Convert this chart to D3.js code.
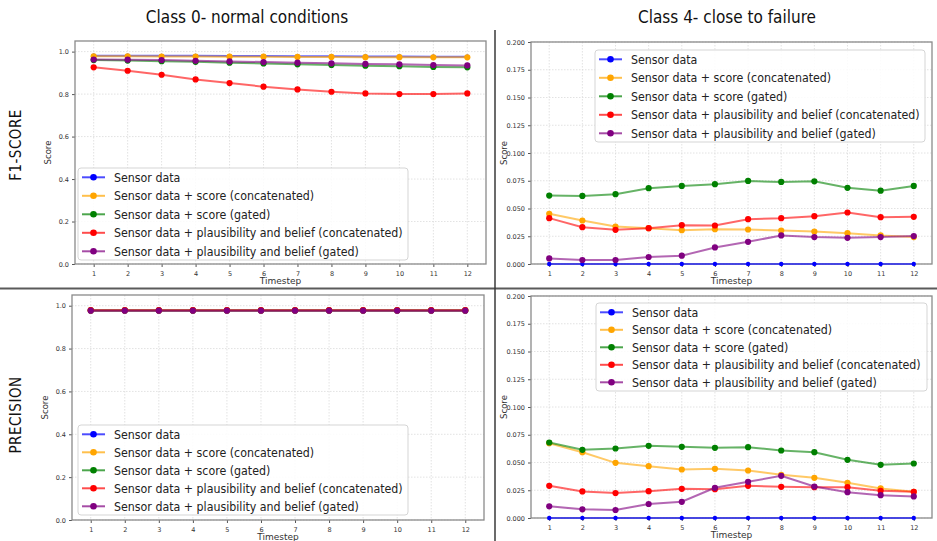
<!DOCTYPE html>
<meta charset="utf-8">
<style>
body { margin: 0; background: #fff; }
svg { display: block; }
</style>
<svg width="937" height="541"></svg>
<script src="https://d3js.org/d3.v7.min.js"></script>
<script>
var svg = d3.select("svg");

// categories and series
var timesteps = [1, 2, 3, 4, 5, 6, 7, 8, 9, 10, 11, 12];
var seriesNames = [
    "Sensor data",
    "Sensor data + score (concatenated)",
    "Sensor data + score (gated)",
    "Sensor data + plausibility and belief (concatenated)",
    "Sensor data + plausibility and belief (gated)"
];
var seriesColors = ["#0000ff", "#ffa500", "#008000", "#ff0000", "#800080"];

// F1-score, class 0 (one row per series, same order as seriesNames)
var f1Class0 = [
    [0.981, 0.981, 0.980, 0.980, 0.979, 0.979, 0.978, 0.978, 0.977, 0.977, 0.976, 0.976],
    [0.978, 0.978, 0.977, 0.977, 0.976, 0.976, 0.975, 0.975, 0.974, 0.974, 0.973, 0.973],
    [0.960, 0.958, 0.955, 0.952, 0.948, 0.944, 0.940, 0.937, 0.934, 0.931, 0.928, 0.926],
    [0.926, 0.910, 0.891, 0.869, 0.852, 0.835, 0.822, 0.811, 0.803, 0.800, 0.800, 0.803],
    [0.963, 0.962, 0.960, 0.957, 0.954, 0.951, 0.948, 0.945, 0.942, 0.940, 0.937, 0.935]
];
// F1-score, class 4
var f1Class4 = [
    [0, 0, 0, 0, 0, 0, 0, 0, 0, 0, 0, 0],
    [0.0452, 0.0392, 0.0338, 0.0323, 0.0305, 0.0314, 0.0311, 0.0302, 0.0293, 0.0278, 0.0257, 0.0243],
    [0.0616, 0.0613, 0.0629, 0.0683, 0.0703, 0.0719, 0.0748, 0.0739, 0.0745, 0.0686, 0.0661, 0.0703],
    [0.0413, 0.0332, 0.0308, 0.0323, 0.0350, 0.0347, 0.0404, 0.0413, 0.0431, 0.0464, 0.0422, 0.0425],
    [0.0050, 0.0036, 0.0036, 0.0063, 0.0075, 0.0149, 0.0200, 0.0257, 0.0243, 0.0236, 0.0243, 0.0252]
];
// Precision, class 0
var precClass0 = [
    [0.978, 0.978, 0.978, 0.978, 0.978, 0.978, 0.978, 0.978, 0.978, 0.978, 0.978, 0.978],
    [0.978, 0.978, 0.978, 0.978, 0.978, 0.978, 0.978, 0.978, 0.978, 0.978, 0.978, 0.978],
    [0.978, 0.978, 0.978, 0.978, 0.978, 0.978, 0.978, 0.978, 0.978, 0.978, 0.978, 0.978],
    [0.979, 0.979, 0.979, 0.979, 0.979, 0.979, 0.979, 0.979, 0.979, 0.979, 0.979, 0.979],
    [0.977, 0.977, 0.977, 0.977, 0.977, 0.977, 0.977, 0.977, 0.977, 0.977, 0.977, 0.977]
];
// Precision, class 4
var precClass4 = [
    [0, 0, 0, 0, 0, 0, 0, 0, 0, 0, 0, 0],
    [0.0674, 0.0593, 0.0497, 0.0467, 0.0437, 0.0443, 0.0428, 0.0389, 0.0362, 0.0317, 0.0266, 0.0236],
    [0.0680, 0.0614, 0.0626, 0.0650, 0.0641, 0.0632, 0.0638, 0.0608, 0.0593, 0.0524, 0.0479, 0.0491],
    [0.0290, 0.0239, 0.0225, 0.0242, 0.0263, 0.0260, 0.0290, 0.0281, 0.0278, 0.0278, 0.0245, 0.0236],
    [0.0105, 0.0078, 0.0072, 0.0126, 0.0146, 0.0272, 0.0326, 0.0380, 0.0284, 0.0233, 0.0206, 0.0194]
];

var yTicksClass0 = [0, 0.2, 0.4, 0.6, 0.8, 1.0];
var yTicksClass4 = [0, 0.025, 0.05, 0.075, 0.1, 0.125, 0.15, 0.175, 0.2];

// panel layout
var panels = [
    {data: f1Class0, box: [75, 41, 486, 264], ymax: 1.05, ticks: yTicksClass0, fmt: ".1f", leg: [78, 168, 330, 92]},
    {data: f1Class4, box: [531, 42, 932, 264], ymax: 0.2, ticks: yTicksClass4, fmt: ".3f", leg: [595, 50, 330, 92]},
    {data: precClass0, box: [72, 295, 484, 520], ymax: 1.05, ticks: yTicksClass0, fmt: ".1f", leg: [78, 425, 330, 90]},
    {data: precClass4, box: [531, 296, 932, 518], ymax: 0.2, ticks: yTicksClass4, fmt: ".3f", leg: [596, 303, 331, 88]}
];

var font = "DejaVu Sans, sans-serif";

panels.forEach(function(p) {
    var x = d3.scaleLinear().domain([0.45, 12.55]).range([p.box[0], p.box[2]]);
    var y = d3.scaleLinear().domain([0, p.ymax]).range([p.box[3], p.box[1]]);
    var g = svg.append("g");

    // grid
    g.selectAll(".gx").data(timesteps).enter().append("line")
        .attr("x1", function(d) { return x(d); }).attr("x2", function(d) { return x(d); })
        .attr("y1", p.box[1]).attr("y2", p.box[3])
        .attr("stroke", "#dadada").attr("stroke-width", 0.8).attr("stroke-dasharray", "1.5,1.5");
    g.selectAll(".gy").data(p.ticks).enter().append("line")
        .attr("x1", p.box[0]).attr("x2", p.box[2])
        .attr("y1", function(d) { return y(d); }).attr("y2", function(d) { return y(d); })
        .attr("stroke", "#dadada").attr("stroke-width", 0.8).attr("stroke-dasharray", "1.5,1.5");

    // axes
    var xAxis = g.append("g").attr("transform", "translate(0," + p.box[3] + ")")
        .call(d3.axisBottom(x).tickValues(timesteps).tickSize(3).tickPadding(4));
    var yAxis = g.append("g").attr("transform", "translate(" + p.box[0] + ",0)")
        .call(d3.axisLeft(y).tickValues(p.ticks).tickFormat(d3.format(p.fmt)).tickSize(3).tickPadding(3));
    [xAxis, yAxis].forEach(function(a) {
        a.select(".domain").remove();
        a.selectAll("line").attr("stroke", "#555");
        a.selectAll("text").attr("fill", "#333").style("font", "6.5px " + font);
    });

    // frame
    g.append("rect")
        .attr("x", p.box[0]).attr("y", p.box[1])
        .attr("width", p.box[2] - p.box[0]).attr("height", p.box[3] - p.box[1])
        .attr("fill", "none").attr("stroke", "#8a8a8a").attr("stroke-width", 1.3);

    // labels
    g.append("text")
        .attr("x", (p.box[0] + p.box[2]) / 2).attr("y", p.box[3] + 20)
        .attr("text-anchor", "middle").attr("fill", "#333")
        .style("font", "9px " + font).text("Timestep");
    g.append("text")
        .attr("transform", "translate(" + (p.box[0] - 24) + "," + ((p.box[1] + p.box[3]) / 2) + ") rotate(-90)")
        .attr("text-anchor", "middle").attr("fill", "#333")
        .style("font", "8.5px " + font).text("Score");

    // series
    var line = d3.line()
        .x(function(d, i) { return x(timesteps[i]); })
        .y(function(d) { return y(d); });
    p.data.forEach(function(vals, s) {
        g.append("path").datum(vals)
            .attr("d", line).attr("fill", "none")
            .attr("stroke", seriesColors[s]).attr("stroke-width", 2).attr("stroke-opacity", 0.6);
        g.selectAll(".m" + s).data(vals).enter().append("circle")
            .attr("cx", function(d, i) { return x(timesteps[i]); })
            .attr("cy", function(d) { return y(d); })
            .attr("r", s === 0 ? 2.2 : 3.1)
            .attr("fill", seriesColors[s]);
    });

    // legend
    var L = p.leg;
    var lg = g.append("g");
    lg.append("rect")
        .attr("x", L[0]).attr("y", L[1]).attr("width", L[2]).attr("height", L[3])
        .attr("rx", 3).attr("fill", "#fff").attr("fill-opacity", 0.85)
        .attr("stroke", "#d5d5d5").attr("stroke-width", 1);
    var step = (L[3] - 18) / 4;
    var labels = [];
    seriesNames.forEach(function(name, s) {
        var cy = L[1] + 9.3 + s * step;
        lg.append("line")
            .attr("x1", L[0] + 4).attr("x2", L[0] + 27).attr("y1", cy).attr("y2", cy)
            .attr("stroke", seriesColors[s]).attr("stroke-width", 2).attr("stroke-opacity", 0.7);
        lg.append("circle").attr("cx", L[0] + 15.5).attr("cy", cy).attr("r", 3.3)
            .attr("fill", seriesColors[s]);
        var tg = lg.append("g").attr("data-x", L[0] + 36).attr("data-y", cy + 4.3);
        tg.append("text").attr("fill", "#222").style("font", "11.8px " + font).text(name);
        labels.push(tg);
    });
    // squeeze labels horizontally so the longest one spans the figure's width
    var longest = d3.max(labels, function(tg) { return tg.select("text").node().getComputedTextLength(); });
    var k = 289 / longest;
    labels.forEach(function(tg) {
        tg.attr("transform", "translate(" + tg.attr("data-x") + "," + tg.attr("data-y") + ") scale(" + k + ",1)");
    });
});

// figure dividers
svg.append("line").attr("x1", 0).attr("x2", 937).attr("y1", 288.5).attr("y2", 288.5)
    .attr("stroke", "#5a5a5a").attr("stroke-width", 2);
svg.append("line").attr("x1", 495).attr("x2", 495).attr("y1", 30).attr("y2", 541)
    .attr("stroke", "#3a3a3a").attr("stroke-width", 1.5);

// column titles
var titleFont = "'Liberation Sans Narrow', 'DejaVu Sans Condensed', sans-serif";
svg.append("text").attr("x", 247).attr("y", 23).attr("text-anchor", "middle")
    .attr("fill", "#111").style("font", "17px " + titleFont).text("Class 0- normal conditions");
svg.append("text").attr("x", 727).attr("y", 23).attr("text-anchor", "middle")
    .attr("fill", "#111").style("font", "17px " + titleFont).text("Class 4- close to failure");

// row titles
svg.append("text").attr("transform", "translate(21,145) rotate(-90)").attr("text-anchor", "middle")
    .attr("fill", "#111").style("font", "15px " + titleFont).style("letter-spacing", "0.5px").text("F1-SCORE");
svg.append("text").attr("transform", "translate(21,415) rotate(-90)").attr("text-anchor", "middle")
    .attr("fill", "#111").style("font", "15px " + titleFont).style("letter-spacing", "0.5px").text("PRECISION");
</script>
